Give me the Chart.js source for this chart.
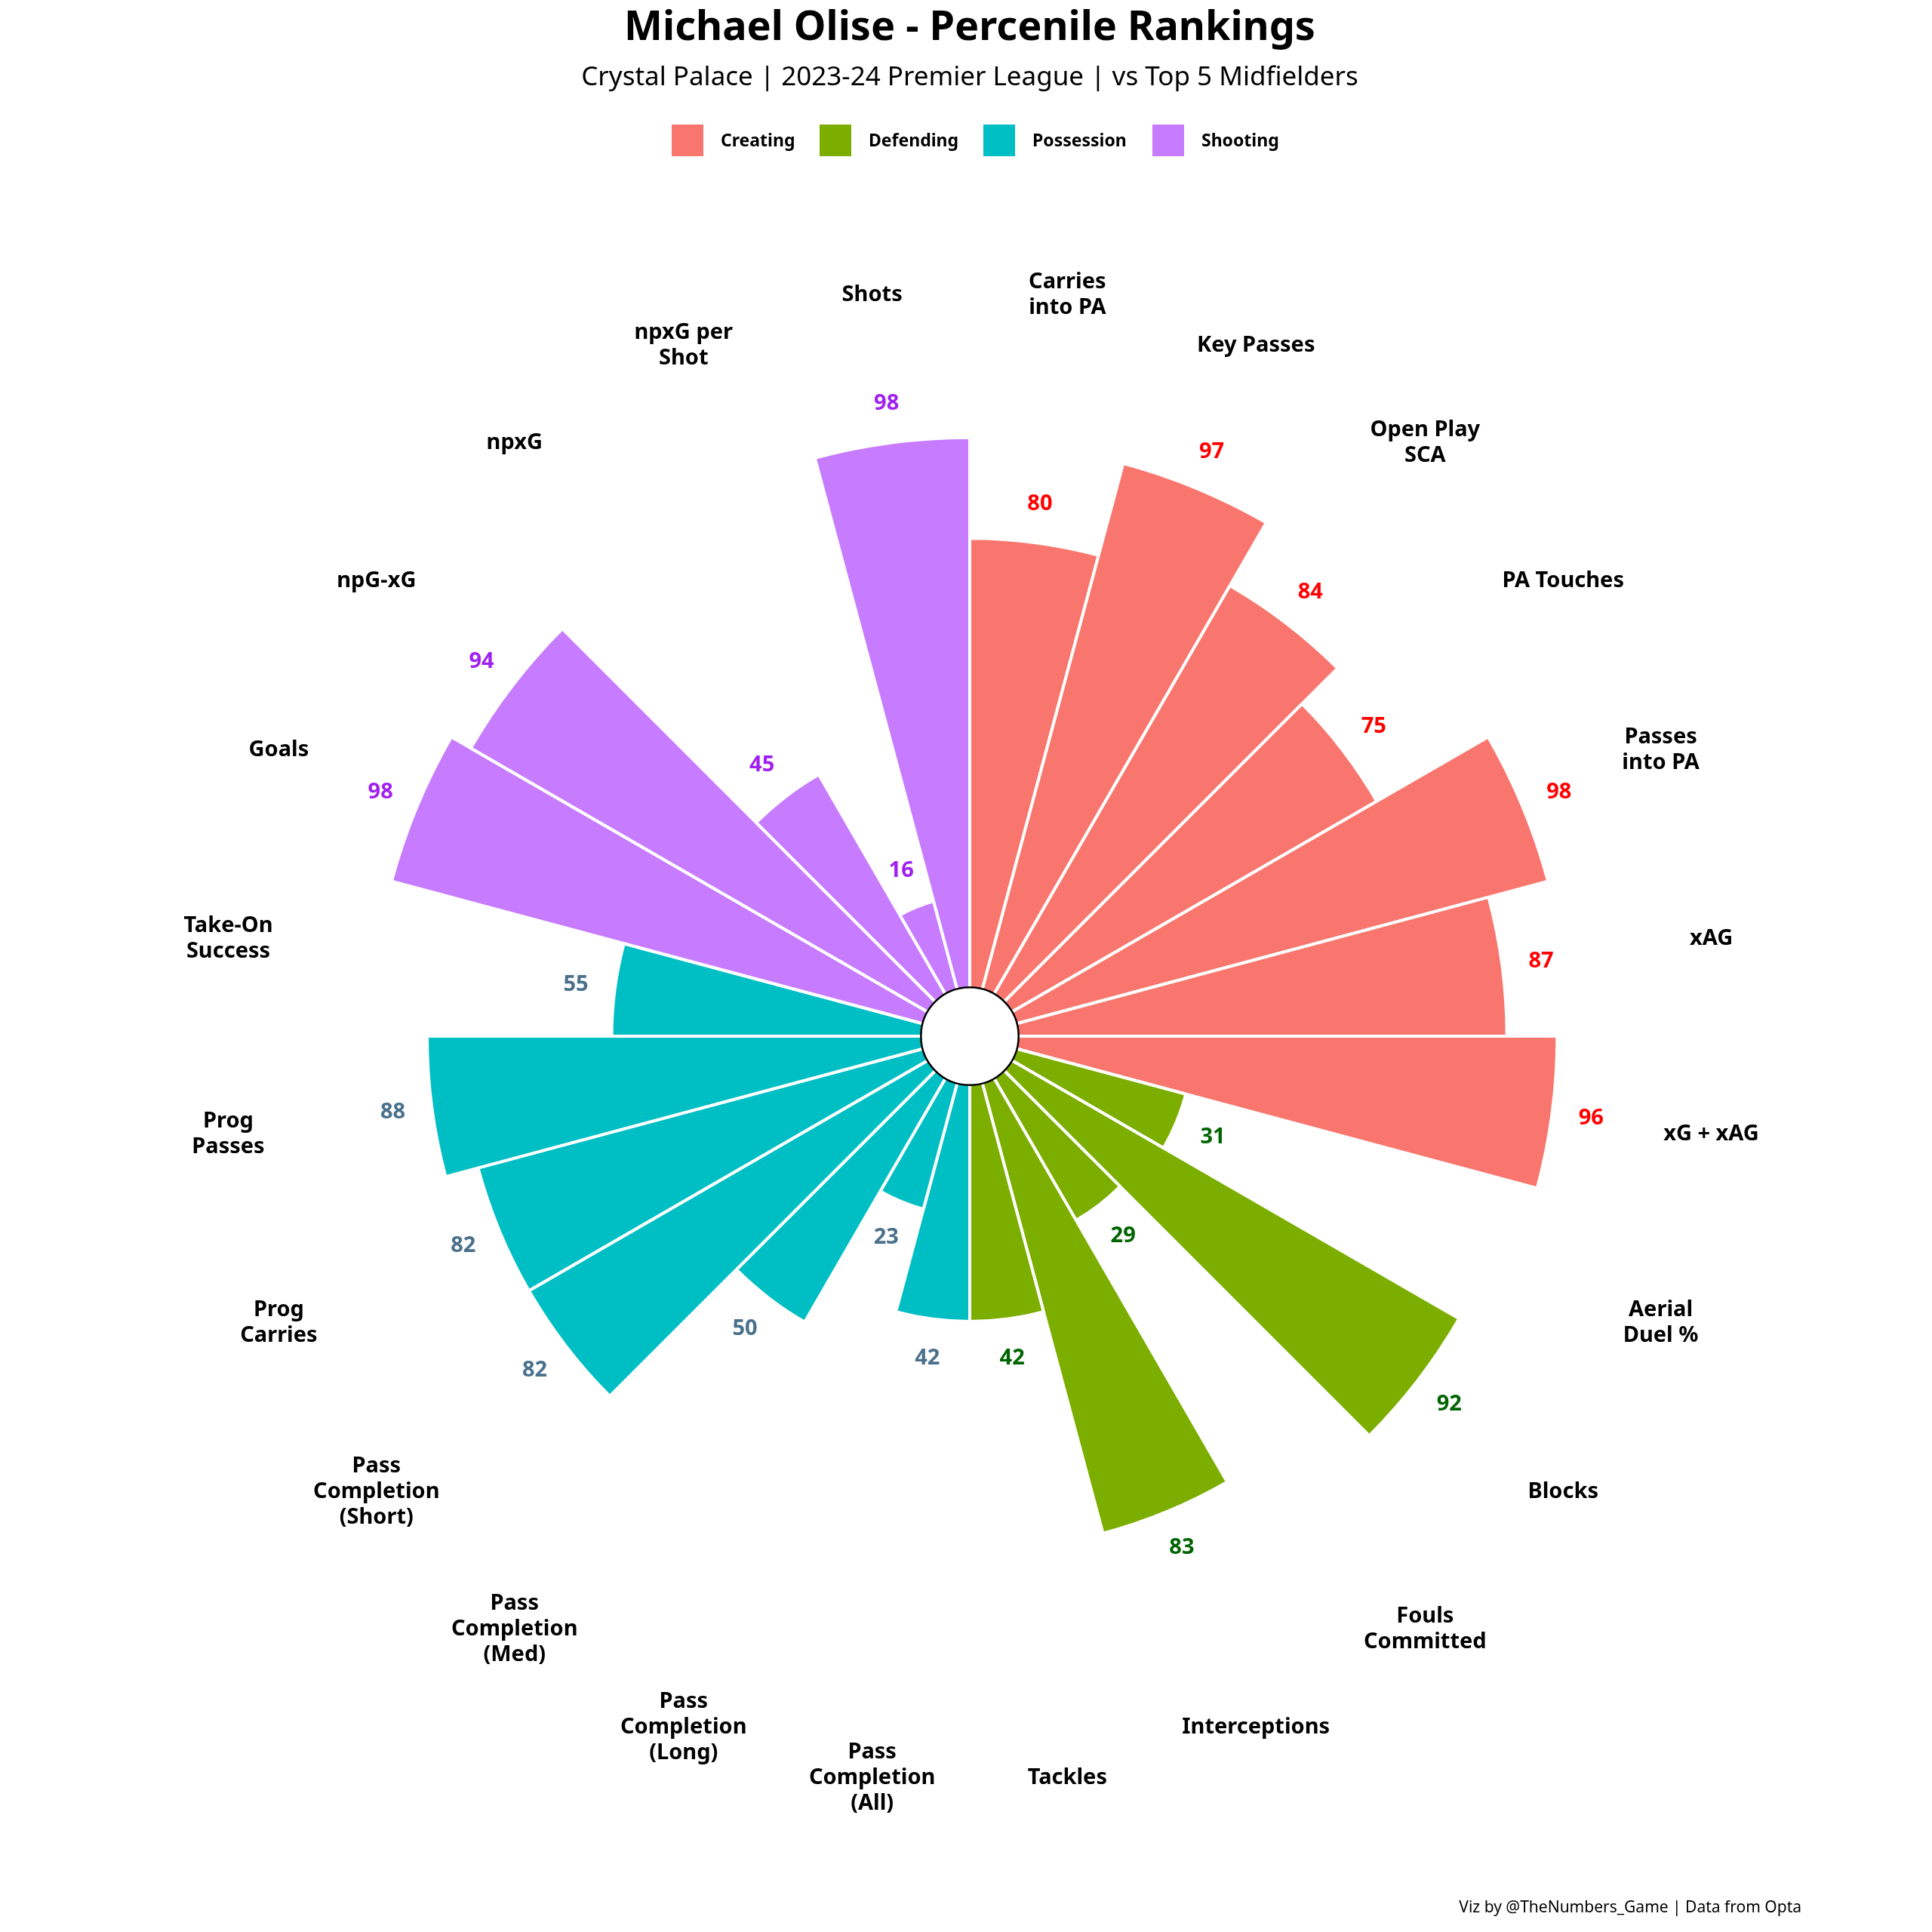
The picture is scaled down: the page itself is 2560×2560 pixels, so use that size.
<!DOCTYPE html>
<html>
<head>
<meta charset="utf-8">
<script src="https://cdn.jsdelivr.net/npm/chart.js@4"></script>
<style>
  html, body { margin: 0; padding: 0; background: #fff; }
  #wrap { width: 2560px; height: 2560px; }
</style>
</head>
<body>
<div id="wrap"><canvas id="chart" width="2560" height="2560"></canvas></div>
<script>
// clockwise from 12 o'clock
const labels = [
  ["Carries", "into PA"], ["Key Passes"], ["Open Play", "SCA"], ["PA Touches"],
  ["Passes", "into PA"], ["xAG"], ["xG + xAG"],
  ["Aerial", "Duel %"], ["Blocks"], ["Fouls", "Committed"], ["Interceptions"], ["Tackles"],
  ["Pass", "Completion", "(All)"], ["Pass", "Completion", "(Long)"], ["Pass", "Completion", "(Med)"],
  ["Pass", "Completion", "(Short)"], ["Prog", "Carries"], ["Prog", "Passes"], ["Take-On", "Success"],
  ["Goals"], ["npG-xG"], ["npxG"], ["npxG per", "Shot"], ["Shots"]
];
const percentiles = [80, 97, 84, 75, 98, 87, 96, 31, 92, 29, 83, 42, 42, 23, 50, 82, 82, 88, 55, 98, 94, 45, 16, 98];
const groups = ["Creating", "Creating", "Creating", "Creating", "Creating", "Creating", "Creating",
  "Defending", "Defending", "Defending", "Defending", "Defending",
  "Possession", "Possession", "Possession", "Possession", "Possession", "Possession", "Possession",
  "Shooting", "Shooting", "Shooting", "Shooting", "Shooting"];
const groupNames = ["Creating", "Defending", "Possession", "Shooting"];
const fillColors = { Creating: "#F8766D", Defending: "#7CAE00", Possession: "#00BFC4", Shooting: "#C77CFF" };
const textColors = { Creating: "#FF0000", Defending: "#006400", Possession: "#4A708B", Shooting: "#A020F0" };

const FONT = "'Noto Sans', 'DejaVu Sans', sans-serif";

const decorations = {
  id: "decorations",
  afterDatasetsDraw(chart) {
    const ctx = chart.ctx;
    const r = chart.scales.r;
    const cx = r.xCenter, cy = r.yCenter;
    const n = percentiles.length;
    ctx.save();
    // inner hole
    ctx.beginPath();
    ctx.arc(cx, cy, r.getDistanceFromCenterForValue(0) - 2, 0, Math.PI * 2);
    ctx.fillStyle = "#fff";
    ctx.fill();
    ctx.lineWidth = 2.5;
    ctx.strokeStyle = "#000";
    ctx.stroke();

    ctx.textAlign = "center";
    ctx.textBaseline = "middle";
    for (let i = 0; i < n; i++) {
      const ang = -Math.PI / 2 + (i + 0.5) * 2 * Math.PI / n;
      // value label
      const dv = r.getDistanceFromCenterForValue(percentiles[i]) + 52;
      ctx.font = "bold 29px " + FONT;
      ctx.fillStyle = textColors[groups[i]];
      ctx.fillText(String(percentiles[i]), cx + Math.cos(ang) * dv, cy + Math.sin(ang) * dv);
      // category label
      const dl = 991;
      const lx = cx + Math.cos(ang) * dl, ly = cy + Math.sin(ang) * dl;
      const lines = labels[i];
      const lh = 34;
      ctx.fillStyle = "#000";
      lines.forEach((t, k) => {
        ctx.fillText(t, lx, ly + (k - (lines.length - 1) / 2) * lh);
      });
    }

    // title and subtitle
    ctx.fillStyle = "#000";
    ctx.font = "bold 54px " + FONT;
    ctx.fillText("Michael Olise - Percenile Rankings", 1285, 38);
    ctx.font = "35px " + FONT;
    ctx.fillText("Crystal Palace | 2023-24 Premier League | vs Top 5 Midfielders", 1285, 103);

    // legend
    const legendX = [890, 1086, 1303, 1527];
    ctx.textAlign = "left";
    ctx.font = "bold 23px " + FONT;
    groupNames.forEach((g, k) => {
      ctx.fillStyle = fillColors[g];
      ctx.fillRect(legendX[k], 165, 42, 42);
      ctx.fillStyle = "#000";
      ctx.fillText(g, legendX[k] + 65, 187);
    });

    // footer
    ctx.textAlign = "right";
    ctx.font = "21px " + FONT;
    ctx.fillText("Viz by @TheNumbers_Game | Data from Opta", 2387, 2528);
    ctx.restore();
  }
};

new Chart(document.getElementById("chart"), {
  type: "polarArea",
  data: {
    labels: labels.map((l) => l.join(" ")),
    datasets: [{
      data: percentiles,
      backgroundColor: groups.map((g) => fillColors[g]),
      borderColor: "#fff",
      borderWidth: 4
    }]
  },
  options: {
    responsive: false,
    animation: false,
    layout: { padding: { left: 477, right: 467, top: 565, bottom: 379 } },
    scales: {
      r: {
        min: -9,
        max: 100,
        ticks: { display: false },
        grid: { display: false },
        angleLines: { display: false },
        pointLabels: { display: false }
      }
    },
    plugins: { legend: { display: false }, tooltip: { enabled: false } }
  },
  plugins: [decorations]
});
</script>
</body>
</html>
